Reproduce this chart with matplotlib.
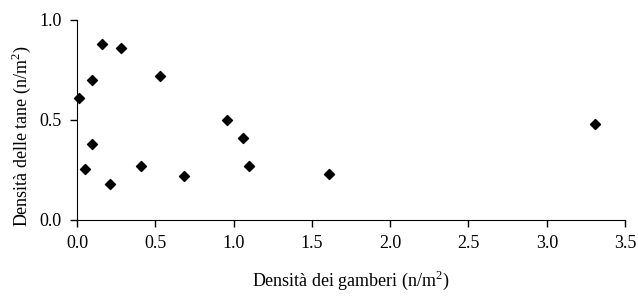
import numpy as np
import matplotlib.pyplot as plt

plt.rcParams['font.family'] = ['Liberation Serif', 'DejaVu Serif']
plt.rcParams['mathtext.fontset'] = 'custom'
plt.rcParams['mathtext.rm'] = 'Liberation Serif'

# densità gamberi vs densità tane
gamberi = [0.015, 0.096, 0.16, 0.28, 0.53, 0.096, 0.053, 0.21, 0.41, 0.686,
           0.96, 1.06, 1.10, 1.61, 3.31]
tane = [0.61, 0.70, 0.88, 0.86, 0.72, 0.38, 0.255, 0.18, 0.27, 0.22,
        0.50, 0.41, 0.27, 0.23, 0.48]
xticks = [0.0, 0.5, 1.0, 1.5, 2.0, 2.5, 3.0, 3.5]
yticks = [0.0, 0.5, 1.0]

fig = plt.figure(figsize=(6.38, 2.96), dpi=100)
ax = fig.add_axes([0.1207, 0.2568, 0.859, 0.6757])
ax.scatter(gamberi, tane, marker='D', s=26, color='black', zorder=3, clip_on=False)

ax.set_xlim(0, 3.5)
ax.set_ylim(0, 1.0)
ax.set_xticks(xticks)
ax.set_yticks(yticks)
ax.set_xticklabels(['%.1f' % v for v in xticks])
ax.set_yticklabels(['%.1f' % v for v in yticks])
ax.spines['top'].set_visible(False)
ax.spines['right'].set_visible(False)
ax.tick_params(direction='out', length=5, width=1, labelsize=13, pad=6)
ax.set_xlabel('Densità dei gamberi (n/m$^{2}$)', fontsize=13, labelpad=12)
ax.set_ylabel('Densità delle tane (n/m$^{2}$)', fontsize=13)
ax.yaxis.set_label_coords(-0.08, 0.42)

fig.savefig('out.png', dpi=100)
